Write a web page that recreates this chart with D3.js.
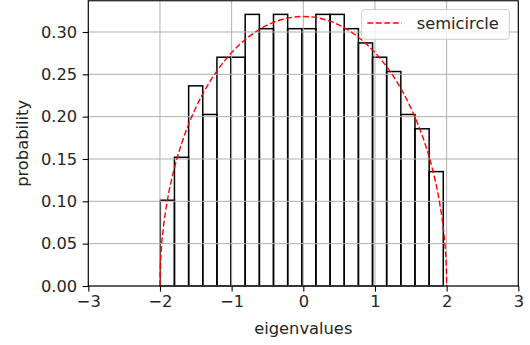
<!DOCTYPE html>
<html>
<head>
<meta charset="utf-8">
<script src="https://d3js.org/d3.v7.min.js"></script>
<style>
  body { margin: 0; background: #fff; }
  svg { display: block; }
  text { font-family: "DejaVu Sans", sans-serif; fill: #262626; }
</style>
</head>
<body>
<svg id="chart" width="530" height="345"></svg>
<script>
// Histogram of eigenvalues (density-normalised), 20 bins
const binEdges = [-1.995, -1.798, -1.600, -1.403, -1.205, -1.008, -0.811, -0.613, -0.416, -0.218,
                  -0.021, 0.176, 0.374, 0.571, 0.769, 0.966, 1.163, 1.361, 1.558, 1.756, 1.953];
const binDensity = [0.1013, 0.1520, 0.2364, 0.2026, 0.2702, 0.2702, 0.3208, 0.3039, 0.3208, 0.3039,
                    0.3039, 0.3208, 0.3208, 0.3039, 0.2871, 0.2702, 0.2533, 0.2026, 0.1857, 0.1351];

// Wigner semicircle density sampled along x
const curveX = [-2, -1.999, -1.995, -1.98, -1.95, -1.9, -1.8, -1.7, -1.6, -1.5, -1.4, -1.2, -1.0, -0.8, -0.6, -0.4, -0.2,
                0, 0.2, 0.4, 0.6, 0.8, 1.0, 1.2, 1.4, 1.5, 1.6, 1.7, 1.8, 1.9, 1.95, 1.98, 1.995, 1.999, 2];
const curveY = [0, 0.01006, 0.02249, 0.04490, 0.07073, 0.09939, 0.13875, 0.16768, 0.19099, 0.21054, 0.22732, 0.25465, 0.27566, 0.29174, 0.30365, 0.31188, 0.31672,
                0.31831, 0.31672, 0.31188, 0.30365, 0.29174, 0.27566, 0.25465, 0.22732, 0.21054, 0.19099, 0.16768, 0.13875, 0.09939, 0.07073, 0.04490, 0.02249, 0.01006, 0];

const xTicks = [-3, -2, -1, 0, 1, 2, 3];
const yTicks = [0, 0.05, 0.10, 0.15, 0.20, 0.25, 0.30];

const svg = d3.select("#chart");
const plotLeft = 88.3, plotRight = 518.3, plotTop = 0.75, plotBottom = 286;
const fontSize = 16.3;

const x = d3.scaleLinear().domain([-3, 3]).range([plotLeft, plotRight]);
const y = d3.scaleLinear().domain([0, 0.3369]).range([plotBottom, plotTop]);

// bars (outlined)
const bins = binDensity.map((v, i) => ({ x0: binEdges[i], x1: binEdges[i + 1], v }));
svg.append("g")
  .selectAll("rect")
  .data(bins)
  .join("rect")
  .attr("x", d => x(d.x0))
  .attr("y", d => y(d.v))
  .attr("width", d => x(d.x1) - x(d.x0))
  .attr("height", d => y(0) - y(d.v))
  .attr("fill", "none")
  .attr("stroke", "#000")
  .attr("stroke-width", 1.5);

// grid
const grid = svg.append("g").attr("stroke", "#b0b0b0").attr("stroke-width", 1);
grid.selectAll(".gx").data(xTicks).join("line")
  .attr("x1", d => x(d)).attr("x2", d => x(d))
  .attr("y1", plotTop).attr("y2", plotBottom);
grid.selectAll(".gy").data(yTicks).join("line")
  .attr("x1", plotLeft).attr("x2", plotRight)
  .attr("y1", d => y(d)).attr("y2", d => y(d));

// semicircle curve
const line = d3.line()
  .x((d, i) => x(curveX[i]))
  .y(d => y(d))
  .curve(d3.curveMonotoneX);
svg.append("path")
  .datum(curveY)
  .attr("d", line)
  .attr("fill", "none")
  .attr("stroke", "#ff0000")
  .attr("stroke-width", 1.4)
  .attr("stroke-dasharray", "5.9,2.6");

// axes
const xAxis = svg.append("g")
  .attr("transform", `translate(0,${plotBottom})`)
  .call(d3.axisBottom(x).tickValues(xTicks).tickFormat(d3.format("d")).tickSizeOuter(0).tickSize(5.6).tickPadding(4));
const yAxis = svg.append("g")
  .attr("transform", `translate(${plotLeft},0)`)
  .call(d3.axisLeft(y).tickValues(yTicks).tickFormat(d3.format(".2f")).tickSizeOuter(0).tickSize(5.6).tickPadding(5.5));
[xAxis, yAxis].forEach(a => {
  a.select(".domain").remove();
  a.selectAll(".tick line").attr("stroke", "#000").attr("stroke-width", 1.1);
  a.selectAll(".tick text").attr("font-size", fontSize).attr("font-family", "DejaVu Sans").attr("fill", "#262626");
});

// frame
svg.append("rect")
  .attr("x", plotLeft).attr("y", plotTop)
  .attr("width", plotRight - plotLeft).attr("height", plotBottom - plotTop)
  .attr("fill", "none").attr("stroke", "#000").attr("stroke-width", 1.1);

// axis titles
svg.append("text")
  .attr("x", (plotLeft + plotRight) / 2).attr("y", 333.5)
  .attr("text-anchor", "middle").attr("font-size", fontSize)
  .text("eigenvalues");
svg.append("text")
  .attr("transform", `translate(28,${(plotTop + plotBottom) / 2}) rotate(-90)`)
  .attr("text-anchor", "middle").attr("font-size", fontSize)
  .text("probability");

// legend
const lg = svg.append("g");
lg.append("rect")
  .attr("x", 361.7).attr("y", 9.5).attr("width", 147.6).attr("height", 29.8).attr("rx", 3)
  .attr("fill", "#fff").attr("fill-opacity", 0.8)
  .attr("stroke", "#cccccc").attr("stroke-width", 1);
lg.append("line")
  .attr("x1", 367.3).attr("x2", 401.7).attr("y1", 23).attr("y2", 23)
  .attr("stroke", "#ff0000").attr("stroke-width", 1.4).attr("stroke-dasharray", "5.9,2.6");
lg.append("text")
  .attr("x", 416.7).attr("y", 29).attr("font-size", fontSize)
  .text("semicircle");
</script>
</body>
</html>
